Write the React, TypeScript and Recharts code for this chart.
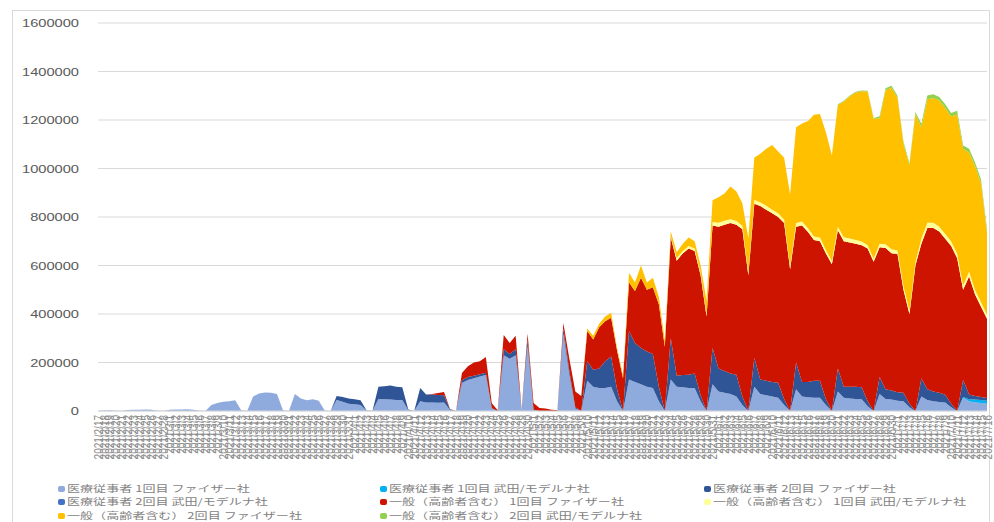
import React from 'react';
import { AreaChart, Area, XAxis, YAxis, CartesianGrid } from 'recharts';

// ---- categories (daily, 2021/2/17 .. 2021/7/16) ----
const MONTH_SPANS: number[][] = [
  [2, 17, 28],
  [3, 1, 31],
  [4, 1, 30],
  [5, 1, 31],
  [6, 1, 30],
  [7, 1, 16],
];
const dates: string[] = [];
for (const [m, a, b] of MONTH_SPANS) for (let d = a; d <= b; d++) dates.push(`2021/${m}/${d}`);

const yTicks = [0, 200000, 400000, 600000, 800000, 1000000, 1200000, 1400000, 1600000];

// ---- series values (one row per week, Mon..Sun; first row Wed..Sun) ----
// 医療従事者 1回目 ファイザー社
const medFirstPfizer = [
  100, 2000, 3000, 1500, 0,
  4000, 5000, 5500, 6000, 5000, 1000, 0,
  5000, 6000, 6500, 7000, 5500, 1000, 0,
  25000, 33000, 38000, 40000, 44000, 3000, 0,
  60000, 72000, 76000, 75000, 70000, 3000, 0,
  70000, 52000, 44000, 48000, 42000, 2000, 0,
  45000, 38000, 30000, 28000, 25000, 2000, 0,
  50000, 48000, 47000, 45000, 45000, 3000, 0,
  40000, 35000, 35000, 34000, 35000, 4000, 0,
  115000, 128000, 135000, 142000, 148000, 10000, 0,
  230000, 215000, 230000, 3000, 270000, 5000, 0,
  0, 0, 0, 320000, 150000, 10000, 0,
  125000, 100000, 95000, 95000, 100000, 40000, 0,
  130000, 120000, 110000, 100000, 95000, 40000, 0,
  130000, 100000, 98000, 95000, 95000, 40000, 0,
  110000, 80000, 75000, 70000, 60000, 25000, 0,
  100000, 70000, 65000, 60000, 55000, 25000, 0,
  90000, 60000, 57000, 55000, 55000, 25000, 0,
  80000, 55000, 52000, 50000, 48000, 20000, 0,
  70000, 50000, 47000, 42000, 40000, 15000, 0,
  60000, 45000, 40000, 37000, 35000, 15000, 0,
  55000, 40000, 35000, 33000, 30000,
];
// 医療従事者 1回目 武田/モデルナ社
const medFirstModerna = [
  0, 0, 0, 0, 0,
  0, 0, 0, 0, 0, 0, 0,
  0, 0, 0, 0, 0, 0, 0,
  0, 0, 0, 0, 0, 0, 0,
  0, 0, 0, 0, 0, 0, 0,
  0, 0, 0, 0, 0, 0, 0,
  0, 0, 0, 0, 0, 0, 0,
  0, 0, 0, 0, 0, 0, 0,
  0, 0, 0, 0, 0, 0, 0,
  0, 0, 0, 0, 0, 0, 0,
  0, 0, 0, 0, 0, 0, 0,
  0, 0, 0, 0, 0, 0, 0,
  0, 0, 0, 0, 0, 0, 0,
  0, 0, 0, 0, 0, 0, 0,
  0, 0, 0, 0, 0, 0, 0,
  0, 0, 0, 0, 0, 0, 0,
  0, 0, 0, 0, 0, 0, 0,
  0, 0, 0, 0, 0, 0, 0,
  0, 0, 0, 0, 0, 0, 0,
  0, 0, 0, 0, 0, 0, 0,
  0, 0, 0, 0, 0, 0, 0,
  3000, 8000, 12000, 12000, 12000,
];
// 医療従事者 2回目 ファイザー社
const medSecondPfizer = [
  0, 0, 0, 0, 0,
  0, 0, 0, 0, 0, 0, 0,
  0, 0, 0, 0, 0, 0, 0,
  0, 0, 0, 0, 0, 0, 0,
  0, 0, 0, 0, 0, 0, 0,
  0, 0, 0, 0, 0, 0, 0,
  17000, 20000, 22000, 20000, 19000, 1000, 0,
  50000, 54000, 58000, 55000, 53000, 3000, 0,
  55000, 33000, 33000, 32000, 30000, 3000, 0,
  12000, 12000, 10000, 10000, 10000, 2000, 0,
  25000, 20000, 25000, 0, 25000, 0, 0,
  0, 0, 0, 20000, 15000, 5000, 0,
  80000, 70000, 80000, 110000, 125000, 50000, 0,
  200000, 160000, 150000, 145000, 140000, 60000, 0,
  170000, 45000, 50000, 55000, 60000, 25000, 0,
  150000, 95000, 90000, 85000, 90000, 35000, 0,
  120000, 60000, 60000, 60000, 62000, 25000, 0,
  110000, 60000, 63000, 70000, 70000, 25000, 0,
  95000, 45000, 48000, 50000, 50000, 20000, 0,
  70000, 40000, 38000, 35000, 35000, 15000, 0,
  75000, 45000, 40000, 38000, 32000, 15000, 0,
  70000, 20000, 15000, 13000, 12000,
];
// 医療従事者 2回目 武田/モデルナ社
const medSecondModerna = [
  0, 0, 0, 0, 0,
  0, 0, 0, 0, 0, 0, 0,
  0, 0, 0, 0, 0, 0, 0,
  0, 0, 0, 0, 0, 0, 0,
  0, 0, 0, 0, 0, 0, 0,
  0, 0, 0, 0, 0, 0, 0,
  0, 0, 0, 0, 0, 0, 0,
  0, 0, 0, 0, 0, 0, 0,
  0, 0, 0, 0, 0, 0, 0,
  0, 0, 0, 0, 0, 0, 0,
  0, 0, 0, 0, 0, 0, 0,
  0, 0, 0, 0, 0, 0, 0,
  0, 0, 0, 0, 0, 0, 0,
  0, 0, 0, 0, 0, 0, 0,
  0, 0, 0, 0, 0, 0, 0,
  0, 0, 0, 0, 0, 0, 0,
  0, 0, 0, 0, 0, 0, 0,
  0, 0, 0, 0, 0, 0, 0,
  0, 0, 0, 0, 0, 0, 0,
  0, 0, 0, 0, 0, 0, 0,
  0, 0, 0, 0, 0, 0, 0,
  0, 0, 0, 0, 0,
];
// 一般（高齢者含む） 1回目 ファイザー社
const genFirstPfizer = [
  0, 0, 0, 0, 0,
  0, 0, 0, 0, 0, 0, 0,
  0, 0, 0, 0, 0, 0, 0,
  0, 0, 0, 0, 0, 0, 0,
  0, 0, 0, 0, 0, 0, 0,
  0, 0, 0, 0, 0, 0, 0,
  0, 0, 0, 0, 0, 0, 0,
  0, 0, 0, 0, 0, 0, 0,
  0, 0, 2000, 8000, 13000, 1000, 0,
  30000, 45000, 55000, 53000, 65000, 20000, 3000,
  58000, 45000, 55000, 2000, 25000, 28000, 12000,
  10000, 5000, 3000, 23000, 50000, 65000, 62000,
  125000, 125000, 170000, 165000, 160000, 160000, 135000,
  200000, 215000, 290000, 255000, 275000, 340000, 265000,
  415000, 475000, 502000, 520000, 505000, 495000, 390000,
  505000, 585000, 603000, 620000, 618000, 690000, 560000,
  635000, 715000, 705000, 695000, 683000, 725000, 585000,
  560000, 645000, 618000, 580000, 575000, 600000, 605000,
  570000, 600000, 595000, 590000, 586000, 630000, 615000,
  535000, 582000, 566000, 570000, 425000, 370000, 600000,
  555000, 665000, 675000, 665000, 643000, 650000, 630000,
  372000, 487000, 418000, 372000, 326000,
];
// 一般（高齢者含む） 1回目 武田/モデルナ社
const genFirstModerna = [
  0, 0, 0, 0, 0,
  0, 0, 0, 0, 0, 0, 0,
  0, 0, 0, 0, 0, 0, 0,
  0, 0, 0, 0, 0, 0, 0,
  0, 0, 0, 0, 0, 0, 0,
  0, 0, 0, 0, 0, 0, 0,
  0, 0, 0, 0, 0, 0, 0,
  0, 0, 0, 0, 0, 0, 0,
  0, 0, 0, 0, 0, 0, 0,
  0, 0, 0, 0, 0, 0, 0,
  0, 0, 0, 0, 0, 0, 0,
  0, 0, 0, 0, 0, 0, 0,
  0, 0, 0, 0, 0, 0, 0,
  0, 0, 0, 0, 0, 0, 0,
  5000, 10000, 10000, 10000, 10000, 10000, 10000,
  14000, 16000, 17000, 16000, 15000, 14000, 12000,
  15000, 16000, 16000, 15000, 15000, 14000, 13000,
  15000, 16000, 16000, 15000, 15000, 14000, 13000,
  15000, 16000, 16000, 15000, 15000, 14000, 13000,
  15000, 16000, 16000, 15000, 15000, 14000, 13000,
  20000, 21000, 21000, 20000, 20000, 19000, 18000,
  18000, 19000, 18000, 18000, 17000,
];
// 一般（高齢者含む） 2回目 ファイザー社
const genSecondPfizer = [
  0, 0, 0, 0, 0,
  0, 0, 0, 0, 0, 0, 0,
  0, 0, 0, 0, 0, 0, 0,
  0, 0, 0, 0, 0, 0, 0,
  0, 0, 0, 0, 0, 0, 0,
  0, 0, 0, 0, 0, 0, 0,
  0, 0, 0, 0, 0, 0, 0,
  0, 0, 0, 0, 0, 0, 0,
  0, 0, 0, 0, 0, 0, 0,
  0, 0, 0, 0, 0, 0, 0,
  0, 0, 0, 0, 0, 0, 0,
  0, 0, 0, 0, 0, 0, 0,
  10000, 15000, 15000, 20000, 20000, 10000, 10000,
  40000, 35000, 50000, 30000, 40000, 30000, 25000,
  20000, 25000, 30000, 35000, 30000, 30000, 55000,
  90000, 105000, 112000, 135000, 122000, 93000, 140000,
  175000, 200000, 235000, 267000, 255000, 255000, 295000,
  395000, 405000, 442000, 502000, 510000, 485000, 436000,
  502000, 560000, 587000, 608000, 620000, 634000, 577000,
  517000, 635000, 666000, 630000, 587000, 600000, 612000,
  460000, 510000, 515000, 520000, 520000, 515000, 575000,
  562000, 492000, 512000, 492000, 337000,
];
// 一般（高齢者含む） 2回目 武田/モデルナ社
const genSecondModerna = [
  0, 0, 0, 0, 0,
  0, 0, 0, 0, 0, 0, 0,
  0, 0, 0, 0, 0, 0, 0,
  0, 0, 0, 0, 0, 0, 0,
  0, 0, 0, 0, 0, 0, 0,
  0, 0, 0, 0, 0, 0, 0,
  0, 0, 0, 0, 0, 0, 0,
  0, 0, 0, 0, 0, 0, 0,
  0, 0, 0, 0, 0, 0, 0,
  0, 0, 0, 0, 0, 0, 0,
  0, 0, 0, 0, 0, 0, 0,
  0, 0, 0, 0, 0, 0, 0,
  0, 0, 0, 0, 0, 0, 0,
  0, 0, 0, 0, 0, 0, 0,
  0, 0, 0, 0, 0, 0, 0,
  0, 0, 0, 0, 0, 0, 0,
  0, 0, 0, 0, 0, 0, 0,
  0, 0, 0, 0, 0, 0, 0,
  3000, 3000, 3000, 3000, 3000, 3000, 3000,
  8000, 8000, 8000, 8000, 8000, 8000, 8000,
  15000, 15000, 15000, 15000, 15000, 15000, 15000,
  15000, 15000, 15000, 15000, 15000,
];

const seriesNames = [
  '医療従事者 1回目 ファイザー社',
  '医療従事者 1回目 武田/モデルナ社',
  '医療従事者 2回目 ファイザー社',
  '医療従事者 2回目 武田/モデルナ社',
  '一般（高齢者含む） 1回目 ファイザー社',
  '一般（高齢者含む） 1回目 武田/モデルナ社',
  '一般（高齢者含む） 2回目 ファイザー社',
  '一般（高齢者含む） 2回目 武田/モデルナ社',
];
const seriesColors = ['#8FAADC', '#00B0F0', '#2F5597', '#4472C4', '#CC1400', '#FFFF99', '#FFC000', '#92D050'];
const seriesValues = [
  medFirstPfizer,
  medFirstModerna,
  medSecondPfizer,
  medSecondModerna,
  genFirstPfizer,
  genFirstModerna,
  genSecondPfizer,
  genSecondModerna,
];
const seriesKeys = ['s1', 's2', 's3', 's4', 's5', 's6', 's7', 's8'];

const data = dates.map((date, i) => {
  const row: Record<string, string | number> = { date };
  seriesKeys.forEach((k, j) => {
    row[k] = seriesValues[j][i] ?? 0;
  });
  return row;
});

const YTick = (props: any) => {
  const { y, payload } = props;
  return (
    <g transform={`translate(79,${y}) scale(1.33,1)`}>
      <text x={0} y={0} dy={4} textAnchor="end" fontSize={11} fill="#595959" fontFamily="Liberation Sans, Arial, sans-serif">
        {payload.value}
      </text>
    </g>
  );
};

const XTick = (props: any) => {
  const { x, payload } = props;
  return (
    <g transform={`translate(${x},415) rotate(-90) scale(1,1.3)`}>
      <text x={0} y={0} dy={3.5} textAnchor="end" fontSize={10} fill="#8C8C8C" fontFamily="Liberation Sans, Arial, sans-serif">
        {payload.value}
      </text>
    </g>
  );
};

const legendCols = [58, 380, 704];
const legendRows = [488.5, 502, 515.5];

export default function App() {
  return (
    <div style={{ position: 'absolute', left: 0, top: 0, width: 994, height: 522, background: '#fff', overflow: 'hidden' }}>
      <div
        style={{
          position: 'absolute',
          left: 12,
          top: 10,
          width: 978,
          height: 530,
          border: '1px solid #D9D9D9',
          boxSizing: 'border-box',
        }}
      />
      <div style={{ position: 'absolute', left: 0, top: 0 }}>
        <AreaChart width={994} height={522} data={data} margin={{ top: 23, right: 7, left: 0, bottom: 0 }}>
          <CartesianGrid vertical={false} stroke="#D9D9D9" strokeWidth={1} />
          <XAxis
            dataKey="date"
            interval={0}
            height={111}
            tickLine={false}
            axisLine={{ stroke: '#D9D9D9' }}
            tick={<XTick />}
          />
          <YAxis
            width={98}
            domain={[0, 1600000]}
            ticks={yTicks}
            axisLine={false}
            tickLine={false}
            tick={<YTick />}
            interval={0}
          />
          {seriesKeys.map((k, j) => (
            <Area
              key={k}
              type="linear"
              dataKey={k}
              name={seriesNames[j]}
              stackId="1"
              stroke="none"
              fill={seriesColors[j]}
              fillOpacity={1}
              isAnimationActive={false}
              dot={false}
              activeDot={false}
            />
          ))}
        </AreaChart>
      </div>
      {seriesNames.map((name, j) => {
        const col = j % 3;
        const row = Math.floor(j / 3);
        return (
          <div
            key={name}
            style={{
              position: 'absolute',
              left: legendCols[col],
              top: legendRows[row] - 6,
              height: 12,
              display: 'flex',
              alignItems: 'center',
              whiteSpace: 'nowrap',
            }}
          >
            <span
              style={{
                display: 'inline-block',
                width: 7,
                height: 6,
                borderRadius: 2,
                background: seriesColors[j],
                marginRight: 2,
              }}
            />
            <span
              style={{
                display: 'inline-block',
                fontFamily: '"Noto Sans CJK JP", sans-serif',
                fontSize: 9,
                lineHeight: '12px',
                height: 12,
                color: '#7F7F7F',
                transform: 'scaleX(1.45)',
                transformOrigin: 'left center',
              }}
            >
              {name}
            </span>
          </div>
        );
      })}
    </div>
  );
}
